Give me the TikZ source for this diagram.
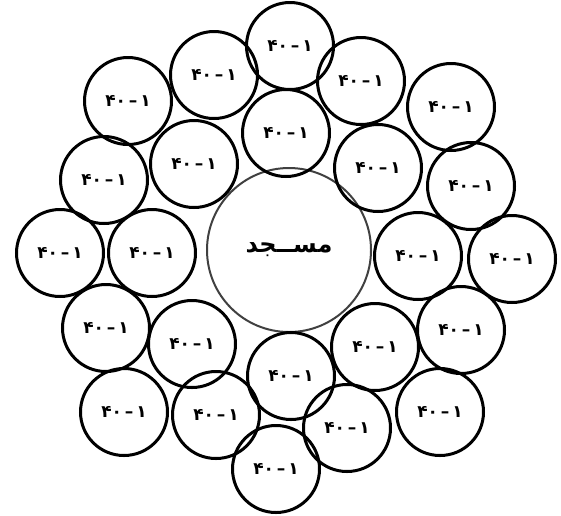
\documentclass[tikz,border=0pt]{standalone}
\usepackage{fontspec}
\TeXXeTstate=1
\newfontfamily\arabicfont[Script=Arabic]{DejaVu Sans}
\newfontfamily\digitfont{DejaVu Sans}
\tikzset{
  lot/.style={circle, draw=black, line width=3pt, minimum size=87pt, inner sep=0pt,
    font=\digitfont\bfseries\fontsize{17}{17}\selectfont},
  hub/.style={circle, draw=black!75, line width=2pt, minimum size=164pt, inner sep=0pt,
    font=\arabicfont\bfseries\fontsize{24}{24}\selectfont}
}
\begin{document}
\begin{tikzpicture}[x=1pt,y=-1pt]
\useasboundingbox (0,0) rectangle (561,515);
\node[hub] (c) at (289,250) {\beginR مســجد\endR};
\foreach \n/\x/\y in {1/290/46, 2/214/75, 3/128/101, 4/361/81, 5/451/107, 6/286/133,
  7/194/164, 8/104/180, 9/378/168, 10/471/186, 11/60/253, 12/152/253,
  13/418/256, 14/512/259, 15/106/328, 16/192/344, 17/461/330, 18/375/347,
  19/291/376, 20/124/412, 21/216/415, 22/347/428, 23/440/412, 24/276/469}
  \node[lot] (p\n) at (\x,\y) {۴۰\,–\,۱};
\end{tikzpicture}
\end{document}
